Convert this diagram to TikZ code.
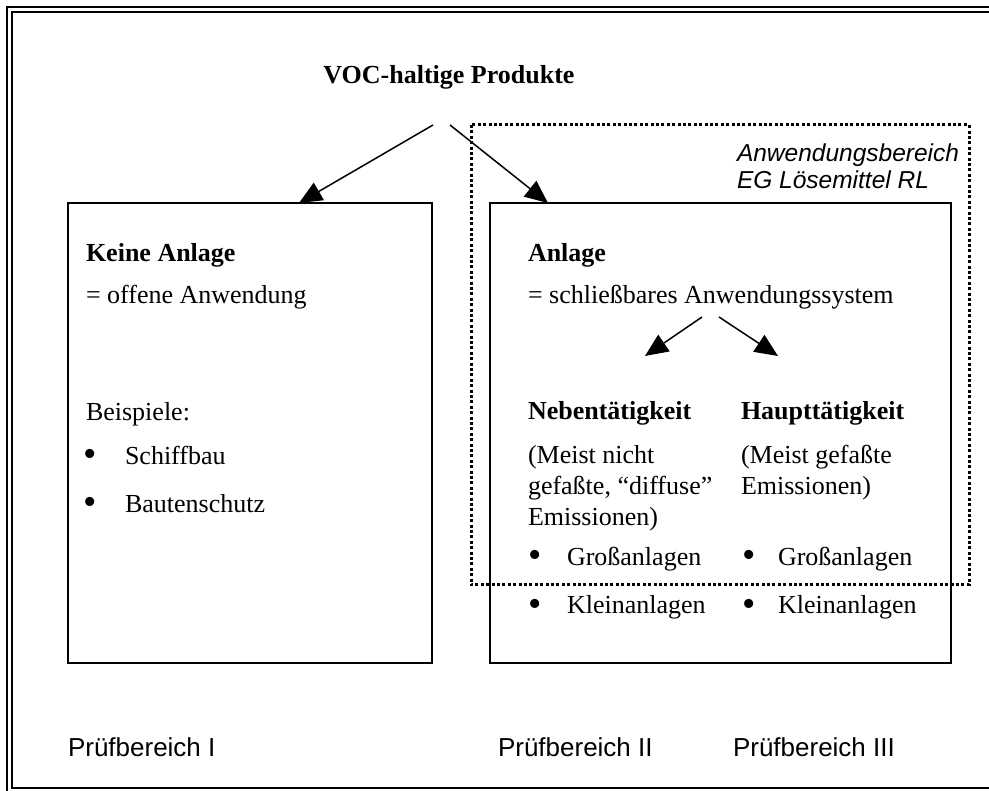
\documentclass[tikz,border=0pt]{standalone}
\usepackage{fontspec}
\setmainfont{Liberation Serif}
\setsansfont{Liberation Sans}
\usetikzlibrary{arrows.meta, positioning}
\tikzset{
    base/.style={inner sep=0pt, outer sep=0pt, anchor=base west, font=\fontsize{26}{31}\selectfont},
    heading/.style={base, font=\fontsize{26}{31}\selectfont\bfseries},
    area/.style={base, font=\fontsize{26}{31}\selectfont\sffamily},
    scopetext/.style={base, font=\fontsize{24.5}{29}\selectfont\sffamily\itshape},
    dot/.style={base, anchor=base, font=\fontsize{38}{38}\selectfont},
    box/.style={draw=black, line width=1.5pt},
    line/.style={draw=black, line width=1.5pt, -{Triangle[length=23pt, width=20pt]}},
    scopebox/.style={draw=black, line width=3pt, dash pattern=on 3pt off 2.4pt}
}

\begin{document}
\begin{tikzpicture}[x=1pt, y=-1pt]
    \useasboundingbox (0,0) rectangle (989,791);
    % page frame (cut at right and bottom)
    \begin{scope}
        \clip (0,0) rectangle (989,791);
        \draw [line width=2.5pt] (7,7) rectangle (1000,800);
        \draw [line width=2pt] (12,12) rectangle (995,788);
    \end{scope}

    % boxes
    \draw [box] (68,203) rectangle (432,663);
    \draw [box] (490,203) rectangle (951,663);
    \draw [scopebox] (471,125) rectangle (969,585);

    % top
    \node [heading, anchor=base] (voc) at (449,84) {VOC-haltige Produkte};
    \coordinate (voc-l) at (433,125);
    \coordinate (voc-r) at (450,125);
    \coordinate (keine-top) at (299,203);
    \coordinate (anlage-top) at (548,203);
    \node [scopetext] (scope1) at (737,162) {Anwendungsbereich};
    \node [scopetext] (scope2) at (737,189) {EG Lösemittel RL};

    % left box
    \node [heading] (keine) at (86,262) {Keine Anlage};
    \node [base] (offen) at (86,304) {= offene Anwendung};
    \node [base] (beisp) at (86,421) {Beispiele:};
    \node [dot] (b1) at (90,467) {•};
    \node [base] (schiff) at (125,465) {Schiffbau};
    \node [dot] (b2) at (90,515) {•};
    \node [base] (bauten) at (125,513) {Bautenschutz};

    % right box
    \node [heading] (anlage) at (528,262) {Anlage};
    \node [base] (schliess) at (528,304) {= schließbares Anwendungssystem};
    \coordinate (sys-l) at (702,317);
    \coordinate (sys-r) at (719,317);
    \coordinate (neben-top) at (645,356);
    \coordinate (haupt-top) at (778,356);

    \node [heading] (neben) at (528,420) {Nebentätigkeit};
    \node [base] (n1) at (528,464) {(Meist nicht};
    \node [base] (n2) at (528,495) {gefaßte, “diffuse”};
    \node [base] (n3) at (528,526) {Emissionen)};
    \node [dot] (nb1) at (535,568) {•};
    \node [base] (ngross) at (567,566) {Großanlagen};
    \node [dot] (nb2) at (535,616) {•};
    \node [base] (nklein) at (567,614) {Kleinanlagen};

    \node [heading] (haupt) at (741,420) {Haupttätigkeit};
    \node [base] (h1) at (741,464) {(Meist gefaßte};
    \node [base] (h2) at (741,495) {Emissionen)};
    \node [dot] (hb1) at (749,568) {•};
    \node [base] (hgross) at (778,566) {Großanlagen};
    \node [dot] (hb2) at (749,616) {•};
    \node [base] (hklein) at (778,614) {Kleinanlagen};

    % bottom labels
    \node [area] (pb1) at (68,756) {Prüfbereich I};
    \node [area] (pb2) at (498,756) {Prüfbereich II};
    \node [area] (pb3) at (733,756) {Prüfbereich III};

    % arrows
    \path [line] (voc-l) -- (keine-top);
    \path [line] (voc-r) -- (anlage-top);
    \path [line] (sys-l) -- (neben-top);
    \path [line] (sys-r) -- (haupt-top);
\end{tikzpicture}
\end{document}
